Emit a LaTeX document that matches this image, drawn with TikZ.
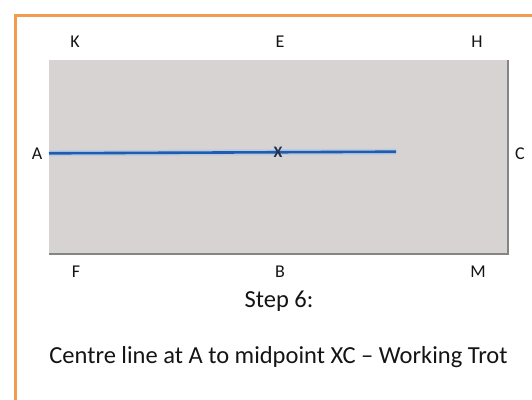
\documentclass[tikz,border=0pt]{standalone}
\usepackage{fontspec}
\setmainfont{Carlito}
\definecolor{laranjaclaro}{HTML}{F39C4F}
\definecolor{cinzaarena}{HTML}{D7D3D3}
\definecolor{cinzaborda}{HTML}{858585}
\definecolor{azulpista}{HTML}{1F5CB0}
\definecolor{azulbrilho}{HTML}{A9C4E6}
\definecolor{marinho}{HTML}{24304A}
\begin{document}
\begin{tikzpicture}[
  x=1pt, y=-1pt,
  every node/.style={inner sep=0pt, anchor=base, text=black!92, font=\fontsize{18}{20}\selectfont}
]
\tikzset{
  letra/.style={},
  legenda/.style={font=\fontsize{24.5}{28}\selectfont},
  moldura/.style={draw=laranjaclaro, line width=3pt},
  arena/.style={fill=cinzaarena},
  sombra/.style={draw=cinzaborda, line width=1.4pt},
  pista/.style={draw=azulpista, line width=2.6pt},
  brilho/.style={draw=azulbrilho, line width=6pt, opacity=0.6}
}
\useasboundingbox (0,0) rectangle (532,399);
\begin{scope}
\clip (0,0) rectangle (532,399);
\draw[moldura] (15,15) rectangle (560,430);
\end{scope}
\fill[arena] (49,60) rectangle (508,254);
\draw[sombra] (508,60) -- (508,254) -- (49,254);
% letras da arena
\node[letra] (K) at (75,47) {K};
\node[letra] (E) at (280,47) {E};
\node[letra] (H) at (477,47) {H};
\node[letra] (A) at (37,159) {A};
\node[letra] (C) at (520,159) {C};
\node[letra] (F) at (76,277) {F};
\node[letra] (B) at (280,277) {B};
\node[letra] (M) at (478,277) {M};
\coordinate (inicio) at (49,153.3);
\coordinate (fim) at (396,151.7);
\draw[brilho] (inicio) -- (fim);
\draw[pista] (inicio) -- (fim);
\node[letra, anchor=center, text=marinho, font=\fontsize{16}{18}\bfseries] (X) at (278,152.6) {X};
\node[legenda] (passo) at (279,307) {Step 6:};
\node[legenda] (texto) at (278.5,363) {Centre line at A to midpoint XC – Working Trot};
\end{tikzpicture}
\end{document}
